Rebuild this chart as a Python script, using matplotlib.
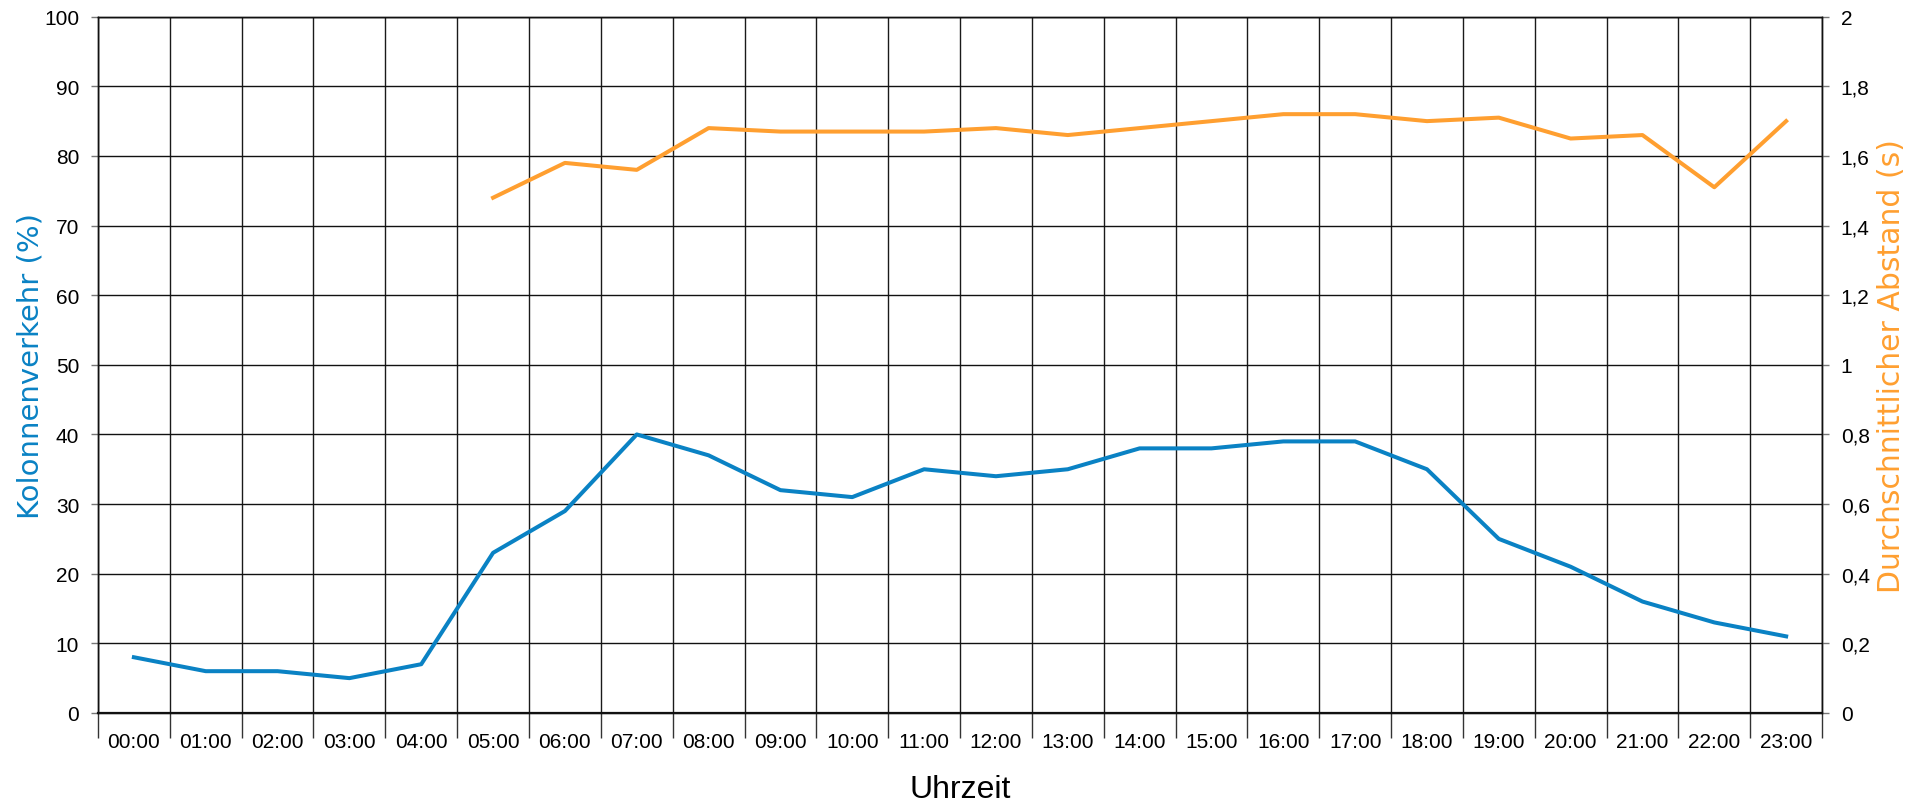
import matplotlib
matplotlib.use("Agg")
import matplotlib.pyplot as plt
import numpy as np

plt.rcParams['font.family'] = ['Liberation Sans', 'DejaVu Sans']

hours = ["00:00", "01:00", "02:00", "03:00", "04:00", "05:00", "06:00", "07:00",
         "08:00", "09:00", "10:00", "11:00", "12:00", "13:00", "14:00", "15:00",
         "16:00", "17:00", "18:00", "19:00", "20:00", "21:00", "22:00", "23:00"]
kolonne = [8, 6, 6, 5, 7, 23, 29, 40, 37, 32, 31, 35, 34, 35, 38, 38, 39, 39,
           35, 25, 21, 16, 13, 11]
abstand = [np.nan, np.nan, np.nan, np.nan, np.nan, 1.48, 1.58, 1.56, 1.68, 1.67,
           1.67, 1.67, 1.68, 1.66, 1.68, 1.70, 1.72, 1.72, 1.70, 1.71, 1.65,
           1.66, 1.51, 1.70]
left_ticks = [0, 10, 20, 30, 40, 50, 60, 70, 80, 90, 100]
right_ticks = [0, 0.2, 0.4, 0.6, 0.8, 1.0, 1.2, 1.4, 1.6, 1.8, 2.0]
right_labels = ["0", "0,2", "0,4", "0,6", "0,8", "1", "1,2", "1,4", "1,6", "1,8", "2"]

blue = "#0A82C4"
orange = "#FF9F30"

fig = plt.figure(figsize=(19.21, 8.04), dpi=100)
ax = fig.add_axes([0.051, 0.112, 0.8975, 0.866])
ax2 = ax.twinx()

x = np.arange(len(hours))
ax.plot(x, kolonne, color=blue, lw=2.9, zorder=5)
ax2.plot(x, abstand, color=orange, lw=2.9, zorder=5)

ax.set_xlim(-0.5, len(hours) - 0.5)
ax.set_ylim(0, 100)
ax2.set_ylim(0, 2)

ax.set_yticks(left_ticks)
ax.set_yticklabels([str(t) for t in left_ticks])
ax2.set_yticks(right_ticks)
ax2.set_yticklabels(right_labels)

ax.set_xticks(x)
ax.set_xticklabels(hours)
ax.set_xticks(np.arange(-0.5, len(hours)), minor=True)
ax.tick_params(axis='x', which='major', length=0, pad=14, labelsize=15)
ax.tick_params(axis='x', which='minor', length=18, width=1, color='#333333')
ax.tick_params(axis='y', length=5, width=1, color='#777777', labelsize=15, pad=8.5)
ax2.tick_params(axis='y', length=5, width=1, color='#777777', labelsize=15, pad=8.5)

ax.grid(True, which='minor', axis='x', color='#1a1a1a', lw=1.0)
ax.grid(True, which='major', axis='y', color='#111111', lw=1.0)
ax.set_axisbelow(True)

for a in (ax, ax2):
    for s in a.spines.values():
        s.set_color('#111111')
        s.set_linewidth(1.0)
ax.spines['bottom'].set_linewidth(1.6)

ax.set_ylabel("Kolonnenverkehr (%)", color=blue, fontsize=21, labelpad=0,
              family=['DejaVu Sans'])
ax2.set_ylabel("Durchschnittlicher Abstand (s)", color=orange, fontsize=21.5,
               labelpad=5, family=['DejaVu Sans'])
ax.set_xlabel("Uhrzeit", fontsize=23, labelpad=16)

fig.savefig("out.png", dpi=100)
